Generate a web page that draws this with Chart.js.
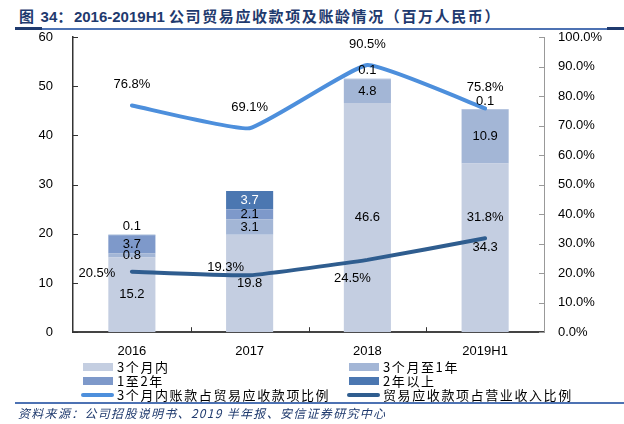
<!DOCTYPE html>
<html>
<head>
<meta charset="utf-8">
<script src="https://cdn.jsdelivr.net/npm/chart.js@4.4.1/dist/chart.umd.min.js"></script>
<style>
  html, body { margin: 0; padding: 0; background: #fff; }
  #wrap { position: relative; width: 624px; height: 424px; overflow: hidden;
          font-family: "Liberation Sans", Arial, "Noto Sans CJK SC", sans-serif; }
  #title { position: absolute; left: 19px; top: 5px; font-size: 15px; font-weight: bold;
           color: #1f3a6e; white-space: nowrap; }
  #title .cn { font-family: "Noto Sans CJK SC", sans-serif; font-weight: bold; letter-spacing: 1.6px; }
  #tline { position: absolute; left: 15px; right: 0; top: 28px; height: 2px; background: #4d72b3; }
  #tline .l { position: absolute; left: 0; top: -1px; width: 27px; height: 3px; background: #1f3a6e; }
  #tline .r { position: absolute; right: 0; top: -1px; width: 17px; height: 3px; background: #1f3a6e; }
  #chart { position: absolute; left: 0; top: 0; }
  #legend { position: absolute; left: 81px; top: 360px; width: 540px;
            display: grid; grid-template-columns: 266px 270px; row-gap: 0px;
            font-family: "Noto Sans CJK SC", sans-serif; font-size: 13px; line-height: 14px; }
  #legend .item { display: flex; align-items: center; height: 14px; white-space: nowrap; letter-spacing: 1.6px; }
  #legend .sw { flex: 0 0 auto; width: 30px; height: 8px; margin: 0 4px 0 2px; }
  #legend .ln { flex: 0 0 auto; width: 33px; height: 4px; border-radius: 2px; margin-right: 3px; }
  #sline { position: absolute; left: 15px; right: 0; top: 402px; height: 2px; background: #4d72b3; }
  #source { position: absolute; left: 18px; top: 404px; font-size: 12px; font-style: italic;
            color: #1f3a6e; font-family: "Noto Sans CJK SC", sans-serif; white-space: nowrap;
            letter-spacing: 1.3px; }
</style>
</head>
<body>
<div id="wrap">
  <div id="title"><span class="cn">图 </span>34<span class="cn">：</span>2016-2019H1 <span class="cn">公司贸易应收款项及账龄情况（百万人民币）</span></div>
  <div id="tline"><div class="l"></div><div class="r"></div></div>
  <canvas id="chart" width="624" height="360"></canvas>
  <div id="legend"></div>
  <div id="sline"></div>
  <div id="source">资料来源：公司招股说明书、2019 半年报、安信证券研究中心</div>
</div>
<script>
// values
var years = ["2016", "2017", "2018", "2019H1"];
var within3m = [15.2, 19.8, 46.6, 34.3];
var from3mTo1y = [0.8, 3.1, 4.8, 10.9];
var from1yTo2y = [3.7, 2.1, 0.1, 0.1];
var over2y = [0.1, 3.7, null, null];
var within3mShare = [76.8, 69.1, 90.5, 75.8];
var receivableToRevenue = [20.5, 19.3, 24.5, 31.8];
var leftTicks = [0, 10, 20, 30, 40, 50, 60];
var rightTicks = [0, 10, 20, 30, 40, 50, 60, 70, 80, 90, 100];

var colors = {
    within3m: "#c4cee1",
    from3mTo1y: "#a3b6d6",
    from1yTo2y: "#7e99ca",
    over2y: "#4b77b1",
    share: "#4d8fdc",
    ratio: "#2f5d8f"
};

Chart.defaults.font.family = '"Liberation Sans", Arial, "Noto Sans CJK SC", sans-serif';
Chart.defaults.font.size = 13;
Chart.defaults.color = "#000";

function barSet(label, data, color) {
    return {
        type: "bar", label: label, data: data, backgroundColor: color,
        yAxisID: "y", stack: "age", order: 1,
        barPercentage: 0.8, categoryPercentage: 0.5
    };
}

function lineSet(label, data, color, anchors) {
    return {
        type: "line", label: label, data: data, borderColor: color, backgroundColor: color,
        borderWidth: 4, pointRadius: 0, tension: 0.12, yAxisID: "y1", order: 0,
        labelAnchors: anchors, borderCapStyle: "round"
    };
}

// value labels on bars and lines
var valueLabels = {
    id: "valueLabels",
    afterDatasetsDraw: function (chart) {
        var ctx = chart.ctx;
        ctx.save();
        ctx.font = '13px "Liberation Sans", Arial, sans-serif';
        ctx.textAlign = "center";
        ctx.textBaseline = "middle";
        chart.data.datasets.forEach(function (ds, di) {
            var meta = chart.getDatasetMeta(di);
            meta.data.forEach(function (el, i) {
                var v = ds.data[i];
                if (v === null || v === undefined) return;
                if (ds.type === "bar") {
                    var y = (el.y + el.base) / 2;
                    if (v < 0.5) y = el.y - 8;
                    ctx.fillStyle = ds.backgroundColor === colors.over2y && v >= 1 ? "#fff" : "#000";
                    ctx.fillText(v.toFixed(1), el.x, y);
                } else {
                    var a = ds.labelAnchors[i];
                    var dx = 0, dy = -21;
                    if (a === "left") { dx = -35; dy = 2; }
                    if (a === "leftUp") { dx = -24; dy = -8; }
                    if (a === "below") { dx = -15; dy = 19; }
                    ctx.fillStyle = "#000";
                    ctx.fillText(v.toFixed(1) + "%", el.x + dx, el.y + dy);
                }
            });
        });
        ctx.restore();
    }
};

// short inward tick marks like the original
var innerTicks = {
    id: "innerTicks",
    afterDraw: function (chart) {
        var ctx = chart.ctx, s = chart.scales, area = chart.chartArea;
        ctx.save();
        ctx.lineWidth = 1;
        ctx.strokeStyle = "#333";
        ctx.beginPath();
        leftTicks.forEach(function (t) {
            var y = Math.round(s.y.getPixelForValue(t)) + 0.5;
            ctx.moveTo(area.left, y); ctx.lineTo(area.left + 5, y);
        });
        for (var i = 0; i < years.length - 1; i++) {
            var x = Math.round((s.x.getPixelForValue(i) + s.x.getPixelForValue(i + 1)) / 2) + 0.5;
            ctx.moveTo(x, area.bottom); ctx.lineTo(x, area.bottom - 5);
        }
        ctx.stroke();
        ctx.strokeStyle = "#999";
        ctx.beginPath();
        rightTicks.forEach(function (t) {
            var y = Math.round(s.y1.getPixelForValue(t)) + 0.5;
            ctx.moveTo(area.right, y); ctx.lineTo(area.right - 5, y);
        });
        ctx.stroke();
        ctx.restore();
    }
};

var noGrid = { display: false, drawTicks: false, tickLength: 0 };

var chart = new Chart(document.getElementById("chart"), {
    data: {
        labels: years,
        datasets: [
            barSet("3个月内", within3m, colors.within3m),
            barSet("3个月至1年", from3mTo1y, colors.from3mTo1y),
            barSet("1至2年", from1yTo2y, colors.from1yTo2y),
            barSet("2年以上", over2y, colors.over2y),
            lineSet("3个月内账款占贸易应收款项比例", within3mShare, colors.share,
                ["above", "above", "above", "above"]),
            lineSet("贸易应收款项占营业收入比例", receivableToRevenue, colors.ratio,
                ["left", "leftUp", "below", "above"])
        ]
    },
    options: {
        responsive: false,
        animation: false,
        layout: { padding: { left: 38, right: 22, top: 37, bottom: 2 } },
        plugins: { legend: { display: false }, tooltip: { enabled: false } },
        scales: {
            x: {
                stacked: true,
                grid: noGrid,
                border: { display: true, color: "#444", width: 2 },
                ticks: { padding: 11 },
                afterFit: function (axis) { axis.height = 25; }
            },
            y: {
                stacked: true, position: "left", min: 0, max: 60,
                afterBuildTicks: function (axis) {
                    axis.ticks = leftTicks.map(function (v) { return { value: v }; });
                },
                grid: noGrid,
                border: { display: true, color: "#333", width: 1.5 },
                ticks: { padding: 20 },
                afterFit: function (axis) { axis.width = 35; }
            },
            y1: {
                position: "right", min: 0, max: 100,
                afterBuildTicks: function (axis) {
                    axis.ticks = rightTicks.map(function (v) { return { value: v }; });
                },
                grid: noGrid,
                border: { display: true, color: "#999", width: 1 },
                ticks: {
                    padding: 14,
                    callback: function (v) { return v.toFixed(1) + "%"; }
                },
                afterFit: function (axis) { axis.width = 58; }
            }
        }
    },
    plugins: [valueLabels, innerTicks]
});

// legend in two columns, built from the datasets
var legend = document.getElementById("legend");
chart.data.datasets.forEach(function (ds) {
    var item = document.createElement("div");
    item.className = "item";
    var sw = document.createElement("span");
    sw.className = ds.type === "bar" ? "sw" : "ln";
    sw.style.background = ds.type === "bar" ? ds.backgroundColor : ds.borderColor;
    var tx = document.createElement("span");
    tx.textContent = ds.label;
    item.appendChild(sw);
    item.appendChild(tx);
    legend.appendChild(item);
});
</script>
</body>
</html>
